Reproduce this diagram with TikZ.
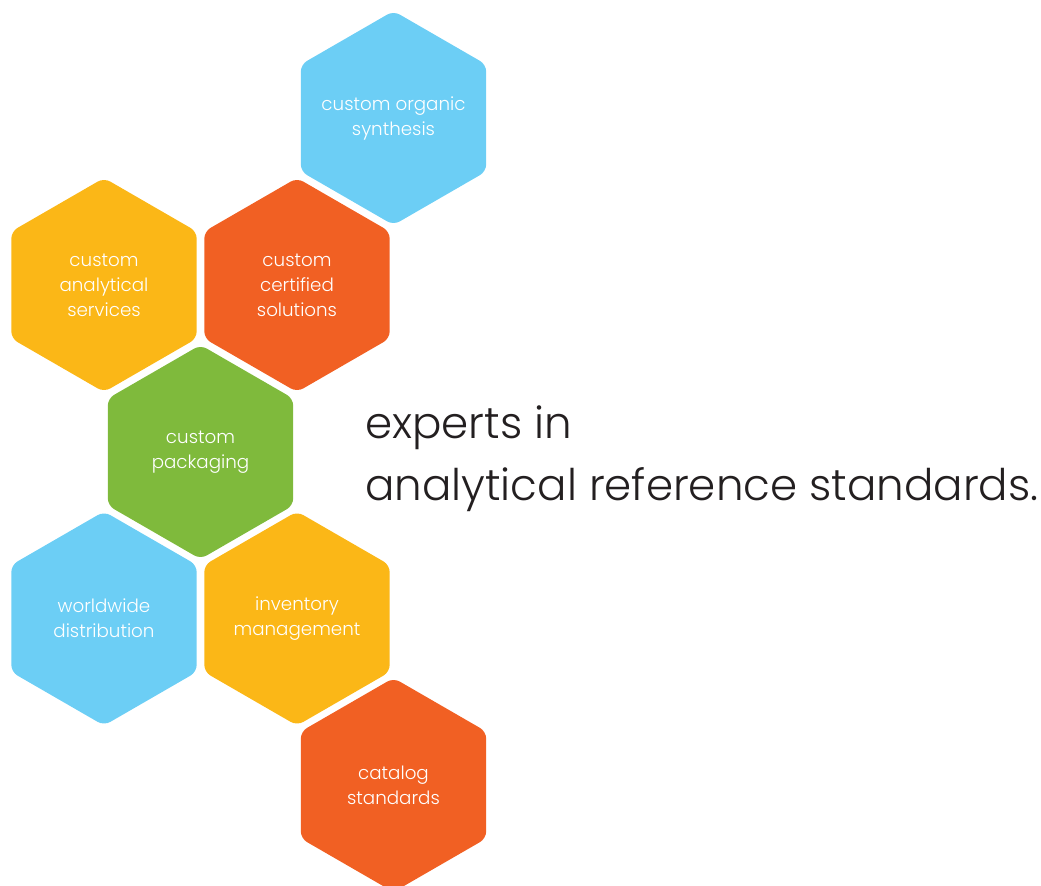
\documentclass[tikz,border=0pt]{standalone}
\usepackage{fontspec}
\setmainfont{Poppins}[UprightFont={* Light}]
\usepackage{tikz}
\usetikzlibrary{shapes.geometric}
\definecolor{hexblue}{RGB}{108,206,245}
\definecolor{hexyellow}{RGB}{251,183,23}
\definecolor{hexorange}{RGB}{241,96,35}
\definecolor{hexgreen}{RGB}{127,186,60}
\definecolor{inkdark}{RGB}{35,31,32}
\tikzstyle{hex}=[regular polygon, regular polygon sides=6, shape border rotate=30, minimum size=5.35cm, inner sep=0pt, inner xsep=-0.8cm, rounded corners=5pt, text=white, align=center, font=\fontsize{13}{17.8}\selectfont]
\tikzstyle{tagline}=[anchor=base west, inner sep=0pt, text=inkdark, font=\fontsize{31}{36}\selectfont]

\begin{document}
\begin{tikzpicture}[x=0.025cm, y=-0.025cm]
				\useasboundingbox (0,0) rectangle (1041,886);
				\node[hex, fill=hexblue] (organic) at (393.5,118) {custom organic\\synthesis};
				\node[hex, fill=hexyellow] (analytical) at (104,285) {custom\\analytical\\services};
				\node[hex, fill=hexorange] (certified) at (297,285) {custom\\certified\\solutions};
				\node[hex, fill=hexgreen] (packaging) at (200.5,452) {custom\\packaging};
				\node[hex, fill=hexblue] (worldwide) at (104,618.5) {worldwide\\distribution};
				\node[hex, fill=hexyellow] (inventory) at (297,618.5) {inventory\\management};
				\node[hex, fill=hexorange] (catalog) at (393.5,785) {catalog\\standards};

				\node[tagline] (experts) at (365,438) {experts in};
				\node[tagline] (standards) at (365,500) {analytical reference standards.};
			\end{tikzpicture}
\end{document}
